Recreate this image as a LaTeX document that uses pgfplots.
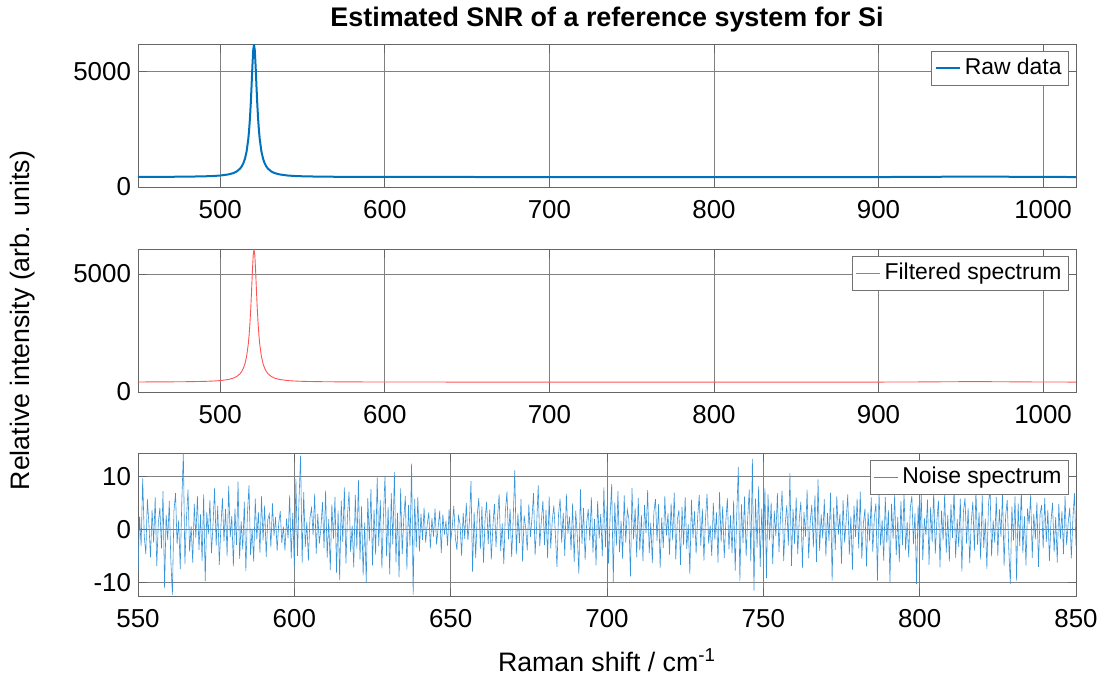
\documentclass[border=0pt]{standalone}
\usepackage{fontspec}
\setmainfont{Liberation Sans}
\usepackage{pgfplots}
\pgfplotsset{compat=1.18}

\definecolor{mblue}{rgb}{0,0.447,0.741}
\definecolor{nblue}{rgb}{0.22,0.58,0.85}
\definecolor{fred}{rgb}{1,0.33,0.33}

\pgfplotsset{
  spec/.style={
    scale only axis, width=469bp, height=71.5bp,
    axis line style={black!60},
    every tick/.style={black!60},
    grid=major, major grid style={black!50, line width=0.4pt},
    tick label style={font=\fontsize{13}{15}\selectfont},
    /pgf/number format/assume math mode=true,
    /pgf/number format/1000 sep={},
    scaled ticks=false,
    xticklabel style={yshift=-3bp},
    legend style={at={(1,1)}, anchor=north east, xshift=-3.5bp, yshift=-3.5bp,
      draw=black!55, font=\fontsize{11.5}{13}\selectfont, inner sep=1.5bp,
      cells={anchor=west}},
    legend image code/.code={\draw[##1] (0bp,0bp) -- (12bp,0bp);},
  }
}

\begin{document}
\begin{tikzpicture}
\path[use as bounding box] (-69bp,22bp) rectangle (484bp,-316.5bp);

% raw
\begin{axis}[spec, name=top, at={(0,0)}, anchor=north west,
  xmin=450, xmax=1020, ymin=0, ymax=6170,
  xtick={500,600,...,1000}, ytick={0,5000}]
\addplot[mblue, line width=1bp] coordinates {
(450,436)(460,438)(470,441)(480,447)(490,460)(495,472)(500,495)(505,543)(508,602)(510,671)
(512,790)(513,884)(514,1019)(515,1220)(516,1535)(517,2053)(517.5,2434)(518,2931)(518.5,3567)(519,4341)
(519.5,5180)(520,5879)(520.5,6160)(521,5879)(521.5,5180)(522,4341)(522.5,3567)(523,2931)(523.5,2434)(524,2053)
(525,1535)(526,1220)(527,1019)(528,884)(529,790)(531,671)(533,602)(536,543)(541,495)(546,472)
(551,460)(561,447)(571,441)(581,438)(591,436)(600,434)(620,432)(640,433)(660,431)(680,430)
(700,431)(720,429)(740,430)(760,428)(780,429)(800,430)(820,429)(840,430)(860,429)(880,431)
(900,430)(920,434)(935,441)(950,447)(965,448)(980,442)(995,435)(1010,432)(1020,431)};
\addlegendentry{Raw data}
\end{axis}

% filtered
\begin{axis}[spec, name=mid, at={(0,-102.5bp)}, anchor=north west,
  xmin=450, xmax=1020, ymin=0, ymax=6060,
  xtick={500,600,...,1000}, ytick={0,5000}]
\addplot[fred, line width=0.45pt] coordinates {
(450,425)(460,427)(470,431)(480,437)(490,449)(495,462)(500,484)(505,531)(508,589)(510,657)
(512,774)(513,867)(514,1000)(515,1198)(516,1508)(517,2017)(517.5,2392)(518,2881)(518.5,3508)(519,4270)
(519.5,5096)(520,5784)(520.5,6060)(521,5784)(521.5,5096)(522,4270)(522.5,3508)(523,2881)(523.5,2392)(524,2017)
(525,1508)(526,1198)(527,1000)(528,867)(529,774)(531,657)(533,589)(536,531)(541,484)(546,462)
(551,449)(561,437)(571,431)(581,427)(591,425)(600,423)(650,421)(700,420)(750,419)(800,419)
(850,420)(900,421)(920,424)(935,431)(950,437)(965,438)(980,432)(995,425)(1010,422)(1020,421)};
\addlegendentry{Filtered spectrum}
\end{axis}

% noise
\begin{axis}[spec, name=bot, at={(0,-204.5bp)}, anchor=north west,
  xmin=550, xmax=850, ymin=-12.5, ymax=14.5,
  xtick={550,600,...,850}, ytick={-10,0,10}]
\addplot[nblue, line width=0.3pt] coordinates {
(550,-8.0)(550.5,2.5)(551,-3.1)(551.5,9.7)(552,-1.2)(552.5,-4.6)(553,5.8)(553.5,0.9)(554,-5.2)(554.5,3.7)
(555,-2.4)(555.5,6.1)(556,-6.8)(556.5,1.3)(557,4.2)(557.5,-3.5)(558,7.3)(558.5,-11.0)(559,2.8)(559.5,-1.9)
(560,5.4)(560.5,-5.7)(561,-12.3)(561.5,3.6)(562,6.9)(562.5,-2.7)(563,1.8)(563.5,-7.4)(564,5.1)(564.5,14.5)
(565,-6.5)(565.5,2.2)(566,7.6)(566.5,-4.1)(567,0.7)(567.5,-6.2)(568,4.9)(568.5,-1.5)(569,6.4)(569.5,-3.8)
(570,2.9)(570.5,-5.9)(571,6.7)(571.5,-9.7)(572,3.3)(572.5,-0.8)(573,5.6)(573.5,-4.4)(574,1.1)(574.5,7.9)
(575,-3.0)(575.5,4.5)(576,-6.6)(576.5,0.4)(577,6.0)(577.5,-2.2)(578,3.9)(578.5,-5.0)(579,8.3)(579.5,-1.4)
(580,2.6)(580.5,-6.9)(581,4.0)(581.5,-2.9)(582,9.1)(582.5,-5.5)(583,1.6)(583.5,-3.7)(584,5.3)(584.5,-7.8)
(585,3.1)(585.5,8.4)(586,-4.8)(586.5,0.2)(587,-6.0)(587.5,5.9)(588,-1.8)(588.5,3.4)(589,-4.3)(589.5,6.3)
(590,-2.0)(590.5,4.6)(591,-5.1)(591.5,1.9)(592,3.0)(592.5,-3.3)(593,5.0)(593.5,-1.1)(594,2.4)(594.5,-4.0)
(595,1.2)(595.5,3.5)(596,-2.5)(596.5,0.6)(597,-3.9)(597.5,2.1)(598,-1.6)(598.5,6.5)(599,-5.4)(599.5,3.2)
(600,-7.0)(600.5,9.6)(601,-4.9)(601.5,5.7)(602,14.0)(602.5,-6.3)(603,7.1)(603.5,-3.2)(604,1.5)(604.5,-5.8)
(605,2.3)(605.5,4.1)(606,-1.0)(606.5,6.8)(607,-4.5)(607.5,3.0)(608,-2.6)(608.5,0.3)(609,5.2)(609.5,-3.4)
(610,7.4)(610.5,-5.3)(611,2.0)(611.5,-7.6)(612,4.8)(612.5,-1.7)(613,6.2)(613.5,-8.1)(614,3.6)(614.5,-9.5)
(615,5.5)(615.5,-2.3)(616,8.0)(616.5,-6.4)(617,2.7)(617.5,7.2)(618,-4.2)(618.5,0.8)(619,-7.1)(619.5,6.6)
(620,-3.6)(620.5,9.4)(621,-5.6)(621.5,4.4)(622,-8.6)(622.5,1.4)(623,-10.0)(623.5,6.0)(624,-2.1)(624.5,7.7)
(625,-6.7)(625.5,3.8)(626,-4.7)(626.5,9.9)(627,-3.1)(627.5,5.6)(628,-7.3)(628.5,2.5)(629,10.2)(629.5,-5.0)
(630,4.3)(630.5,-8.4)(631,6.9)(631.5,-2.8)(632,10.9)(632.5,-6.1)(633,3.2)(633.5,-9.0)(634,7.8)(634.5,-4.6)
(635,2.1)(635.5,6.4)(636,-7.5)(636.5,4.7)(637,-3.0)(637.5,12.5)(638,-12.3)(638.5,5.8)(639,-3.3)(639.5,6.2)
(640,-4.1)(640.5,3.0)(641,-1.9)(641.5,4.2)(642,-2.4)(642.5,1.0)(643,3.3)(643.5,-3.5)(644,2.2)(644.5,-1.3)
(645,4.0)(645.5,-2.8)(646,0.5)(646.5,3.6)(647,-4.4)(647.5,2.9)(648,-0.9)(648.5,1.7)(649,-3.0)(649.5,3.9)
(650,-2.2)(650.5,0.4)(651,4.5)(651.5,-1.5)(652,-3.8)(652.5,2.6)(653,1.1)(653.5,-4.9)(654,3.2)(654.5,-1.7)
(655,5.1)(655.5,-2.0)(656,1.5)(656.5,9.2)(657,-7.9)(657.5,3.4)(658,-5.3)(658.5,2.8)(659,6.0)(659.5,-3.6)
(660,4.4)(660.5,-6.2)(661,1.9)(661.5,5.3)(662,-2.7)(662.5,3.8)(663,-5.6)(663.5,0.6)(664,4.9)(664.5,-3.2)
(665,2.4)(665.5,6.7)(666,-4.0)(666.5,1.2)(667,-6.5)(667.5,3.5)(668,7.2)(668.5,-1.8)(669,4.0)(669.5,-5.1)
(670,2.0)(670.5,11.2)(671,-4.6)(671.5,3.1)(672,-2.5)(672.5,5.8)(673,-6.0)(673.5,2.7)(674,0.3)(674.5,-3.9)
(675,4.8)(675.5,-1.4)(676,2.2)(676.5,6.9)(677,-4.8)(677.5,0.9)(678,8.4)(678.5,-3.1)(679,1.6)(679.5,5.5)
(680,-2.9)(680.5,3.7)(681,-5.4)(681.5,6.3)(682,-3.5)(682.5,1.8)(683,4.6)(683.5,-1.0)(684,-7.0)(684.5,2.9)
(685,5.9)(685.5,-2.4)(686,3.2)(686.5,-4.9)(687,6.8)(687.5,-0.7)(688,2.5)(688.5,-3.8)(689,5.0)(689.5,-6.1)
(690,3.6)(690.5,-1.2)(691,-8.3)(691.5,7.7)(692,-2.6)(692.5,4.1)(693,-5.7)(693.5,1.4)(694,3.9)(694.5,-2.0)
(695,6.1)(695.5,-4.3)(696,2.0)(696.5,-6.7)(697,5.4)(697.5,-1.6)(698,3.0)(698.5,-5.0)(699,8.0)(699.5,-3.3)
(700,4.5)(700.5,-6.4)(701,2.6)(701.5,8.6)(702,-9.9)(702.5,5.2)(703,-3.0)(703.5,7.3)(704,-4.2)(704.5,1.7)
(705,-5.5)(705.5,6.5)(706,-2.4)(706.5,3.8)(707,2.0)(707.5,-8.8)(708,7.9)(708.5,-1.8)(709,4.1)(709.5,-5.2)
(710,6.0)(710.5,-3.9)(711,2.8)(711.5,-5.9)(712,4.7)(712.5,-0.6)(713,7.5)(713.5,-4.4)(714,1.3)(714.5,-6.3)
(715,3.4)(715.5,5.8)(716,-2.1)(716.5,4.9)(717,-7.2)(717.5,2.3)(718,-3.4)(718.5,6.4)(719,-1.1)(719.5,3.1)
(720,-4.7)(720.5,5.0)(721,-2.0)(721.5,7.0)(722,-5.6)(722.5,1.9)(723,3.7)(723.5,-6.6)(724,4.3)(724.5,-2.9)
(725,6.2)(725.5,-3.6)(726,1.0)(726.5,-8.3)(727,5.7)(727.5,-1.5)(728,3.5)(728.5,-4.5)(729,2.4)(729.5,6.6)
(730,-3.0)(730.5,4.0)(731,-5.8)(731.5,2.1)(732,6.8)(732.5,-2.6)(733,0.8)(733.5,-4.9)(734,5.1)(734.5,-1.9)
(735,3.3)(735.5,-6.2)(736,7.1)(736.5,-2.3)(737,4.4)(737.5,-5.3)(738,1.6)(738.5,6.0)(739,-3.7)(739.5,2.7)
(740,-4.4)(740.5,5.5)(741,-7.7)(741.5,3.0)(742,11.9)(742.5,-9.7)(743,4.8)(743.5,-2.5)(744,6.3)(744.5,-5.0)
(745,2.2)(745.5,7.6)(746,-6.0)(746.5,13.4)(747,-11.5)(747.5,5.9)(748,-3.4)(748.5,8.2)(749,-7.0)(749.5,4.0)
(750,-5.1)(750.5,7.8)(751,-9.1)(751.5,6.7)(752,-2.0)(752.5,5.2)(753,-6.5)(753.5,3.6)(754,-1.2)(754.5,6.9)
(755,-4.2)(755.5,2.5)(756,7.4)(756.5,-5.9)(757,1.1)(757.5,4.6)(758,-3.0)(758.5,10.7)(759,-6.8)(759.5,3.9)
(760,-2.7)(760.5,6.1)(761,-4.6)(761.5,2.0)(762,5.3)(762.5,-7.2)(763,3.4)(763.5,-1.3)(764,7.6)(764.5,-5.4)
(765,1.5)(765.5,4.7)(766,-3.3)(766.5,6.5)(767,-6.1)(767.5,9.5)(768,-4.0)(768.5,2.9)(769,-1.6)(769.5,5.8)
(770,-5.0)(770.5,3.2)(771,-2.1)(771.5,7.0)(772,-9.6)(772.5,4.2)(773,-3.8)(773.5,6.3)(774,-0.9)(774.5,3.0)
(775,-6.4)(775.5,5.6)(776,-2.4)(776.5,1.8)(777,6.7)(777.5,-4.7)(778,2.6)(778.5,-7.5)(779,4.5)(779.5,-1.4)
(780,5.9)(780.5,-3.5)(781,7.2)(781.5,-5.5)(782,1.2)(782.5,4.0)(783,-6.9)(783.5,3.3)(784,-2.2)(784.5,6.1)
(785,-4.1)(785.5,2.3)(786,5.0)(786.5,-9.6)(787,7.3)(787.5,-3.0)(788,1.9)(788.5,-5.8)(789,6.2)(789.5,-2.5)
(790,3.7)(790.5,-9.9)(791,4.9)(791.5,-1.7)(792,6.6)(792.5,-4.8)(793,2.4)(793.5,-6.1)(794,5.4)(794.5,-2.9)
(795,7.0)(795.5,-3.9)(796,1.5)(796.5,-5.2)(797,4.1)(797.5,6.4)(798,-2.7)(798.5,3.1)(799,-10.2)(799.5,4.6)
(800,-3.1)(800.5,6.8)(801,-5.7)(801.5,2.2)(802,-1.0)(802.5,5.7)(803,-6.6)(803.5,4.3)(804,-2.3)(804.5,7.4)
(805,-4.5)(805.5,1.7)(806,5.5)(806.5,-7.1)(807,3.6)(807.5,-2.0)(808,6.9)(808.5,-4.3)(809,2.8)(809.5,-6.0)
(810,4.8)(810.5,-1.5)(811,7.8)(811.5,-5.3)(812,2.0)(812.5,-3.2)(813,5.9)(813.5,-7.9)(814,3.4)(814.5,6.0)
(815,-2.6)(815.5,4.1)(816,-6.3)(816.5,1.4)(817,5.3)(817.5,-4.0)(818,7.5)(818.5,-2.8)(819,3.3)(819.5,-5.6)
(820,6.5)(820.5,-3.4)(821,2.1)(821.5,-7.4)(822,4.7)(822.5,8.1)(823,-5.0)(823.5,1.8)(824,-2.4)(824.5,6.2)
(825,-4.9)(825.5,3.9)(826,-1.3)(826.5,7.1)(827,-6.8)(827.5,2.7)(828,5.6)(828.5,-3.7)(829,-10.2)(829.5,4.4)
(830,-2.0)(830.5,6.3)(831,-9.6)(831.5,5.0)(832,-3.1)(832.5,7.7)(833,-4.4)(833.5,2.6)(834,-6.7)(834.5,4.0)
(835,1.1)(835.5,6.6)(836,-5.3)(836.5,3.0)(837,-1.8)(837.5,5.2)(838,-7.0)(838.5,2.9)(839,4.7)(839.5,-3.5)
(840,6.0)(840.5,-2.3)(841,3.8)(841.5,-5.9)(842,1.6)(842.5,5.1)(843,-4.2)(843.5,2.4)(844,-6.2)(844.5,4.9)
(845,-1.7)(845.5,3.5)(846,-4.6)(846.5,6.4)(847,-2.9)(847.5,1.3)(848,4.2)(848.5,-5.4)(849,2.0)(849.5,6.9)
(850,-3.0)};
\addlegendentry{Noise spectrum}
\end{axis}

\node[font=\bfseries\fontsize{13.5}{15}\selectfont] at ([yshift=12bp]top.north) {Estimated SNR of a reference system for Si};
\node[font=\fontsize{13.4}{15}\selectfont] at ([yshift=-32bp]bot.south) {Raman shift / cm\textsuperscript{-1}};
\node[rotate=90, font=\fontsize{13.4}{15}\selectfont] at ([xshift=-57.5bp]mid.west) {Relative intensity (arb. units)};
\end{tikzpicture}
\end{document}
